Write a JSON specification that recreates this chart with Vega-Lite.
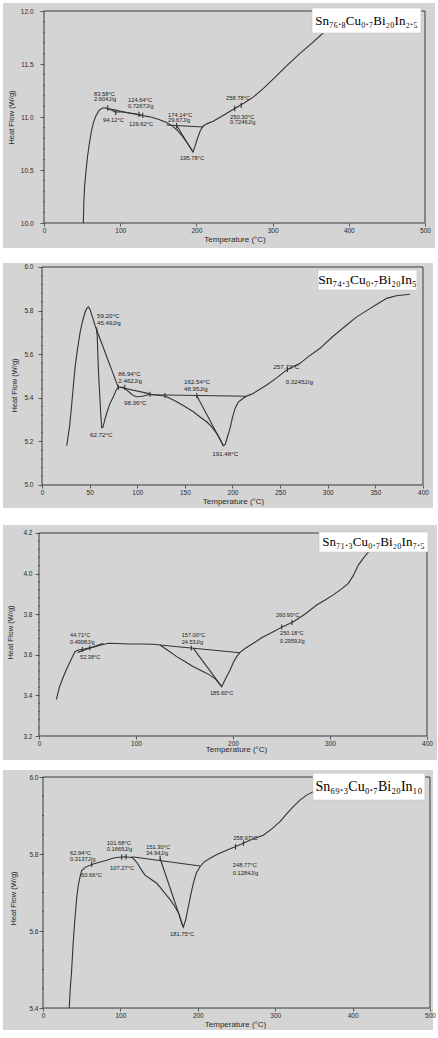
{
  "$schema": "https://vega.github.io/schema/vega-lite/v6.json",
  "background": "white",
  "padding": {"left": 3, "top": 3, "right": 0, "bottom": 0},
  "config": {
    "view": {"fill": "#d4d4d4", "stroke": null},
    "axis": {
      "domain": false, "grid": false, "zindex": 1, "minExtent": 0,
      "labelFont": "Liberation Sans", "titleFont": "Liberation Sans",
      "labelColor": "#2a2a2a", "titleColor": "#2a2a2a", "tickColor": "#3a3a3a",
      "labelFontSize": 6.5, "titleFontSize": 8, "titleFontWeight": "normal",
      "labelFlush": false, "labelOverlap": false, "tickWidth": 0.8, "tickSize": 3
    },
    "tick": {"orient": "horizontal", "size": 2, "thickness": 0.8, "color": "#3a3a3a", "xOffset": -1}
  },
  "datasets": {
    "curves": [
      {"p":1,"s":"c","T":51.6,"HF":10.0},{"p":1,"s":"c","T":52.3,"HF":10.2},{"p":1,"s":"c","T":53.3,"HF":10.35},{"p":1,"s":"c","T":55,"HF":10.48},
      {"p":1,"s":"c","T":57,"HF":10.62},{"p":1,"s":"c","T":59.5,"HF":10.75},{"p":1,"s":"c","T":62,"HF":10.86},{"p":1,"s":"c","T":65,"HF":10.95},
      {"p":1,"s":"c","T":68,"HF":11.01},{"p":1,"s":"c","T":72,"HF":11.06},{"p":1,"s":"c","T":76,"HF":11.083},{"p":1,"s":"c","T":80,"HF":11.087},
      {"p":1,"s":"c","T":85,"HF":11.075},{"p":1,"s":"c","T":90,"HF":11.062},{"p":1,"s":"c","T":94,"HF":11.045},{"p":1,"s":"c","T":98,"HF":11.05},
      {"p":1,"s":"c","T":105,"HF":11.045},{"p":1,"s":"c","T":112,"HF":11.038},{"p":1,"s":"c","T":120,"HF":11.03},{"p":1,"s":"c","T":126,"HF":11.02},
      {"p":1,"s":"c","T":130,"HF":11.012},{"p":1,"s":"c","T":135,"HF":11.006},{"p":1,"s":"c","T":140,"HF":11.0},{"p":1,"s":"c","T":150,"HF":10.978},
      {"p":1,"s":"c","T":160,"HF":10.95},{"p":1,"s":"c","T":168,"HF":10.918},{"p":1,"s":"c","T":175,"HF":10.875},{"p":1,"s":"c","T":182,"HF":10.815},
      {"p":1,"s":"c","T":188,"HF":10.755},{"p":1,"s":"c","T":192,"HF":10.71},{"p":1,"s":"c","T":195.5,"HF":10.67},{"p":1,"s":"c","T":198,"HF":10.72},
      {"p":1,"s":"c","T":201,"HF":10.79},{"p":1,"s":"c","T":205,"HF":10.87},{"p":1,"s":"c","T":209,"HF":10.915},{"p":1,"s":"c","T":215,"HF":10.94},
      {"p":1,"s":"c","T":222,"HF":10.96},{"p":1,"s":"c","T":235,"HF":11.015},{"p":1,"s":"c","T":248,"HF":11.07},{"p":1,"s":"c","T":262,"HF":11.13},
      {"p":1,"s":"c","T":275,"HF":11.19},{"p":1,"s":"c","T":288,"HF":11.27},{"p":1,"s":"c","T":301,"HF":11.36},{"p":1,"s":"c","T":318,"HF":11.48},
      {"p":1,"s":"c","T":336,"HF":11.6},{"p":1,"s":"c","T":352,"HF":11.7},{"p":1,"s":"c","T":366,"HF":11.79},{"p":1,"s":"c","T":380,"HF":11.88},
      {"p":1,"s":"c","T":395,"HF":11.98},
      {"p":1,"s":"b1","T":83.6,"HF":11.08},{"p":1,"s":"b1","T":129.6,"HF":11.012},
      {"p":1,"s":"b2","T":161,"HF":10.925},{"p":1,"s":"b2","T":209,"HF":10.905},
      {"p":1,"s":"b3","T":174.1,"HF":10.92},{"p":1,"s":"b3","T":195.5,"HF":10.67},
      {"p":1,"s":"k1","T":83.6,"HF":11.06},{"p":1,"s":"k1","T":83.6,"HF":11.11},
      {"p":1,"s":"k2","T":94.1,"HF":11.02},{"p":1,"s":"k2","T":94.1,"HF":11.07},
      {"p":1,"s":"k3","T":124.6,"HF":11.0},{"p":1,"s":"k3","T":124.6,"HF":11.05},
      {"p":1,"s":"k4","T":129.6,"HF":10.99},{"p":1,"s":"k4","T":129.6,"HF":11.04},
      {"p":1,"s":"k5","T":174.1,"HF":10.895},{"p":1,"s":"k5","T":174.1,"HF":10.945},
      {"p":1,"s":"k6","T":250.3,"HF":11.055},{"p":1,"s":"k6","T":250.3,"HF":11.105},
      {"p":1,"s":"k7","T":258.8,"HF":11.085},{"p":1,"s":"k7","T":258.8,"HF":11.135},

      {"p":2,"s":"c","T":26,"HF":5.18},{"p":2,"s":"c","T":29,"HF":5.27},{"p":2,"s":"c","T":31,"HF":5.36},{"p":2,"s":"c","T":33,"HF":5.46},
      {"p":2,"s":"c","T":35,"HF":5.55},{"p":2,"s":"c","T":37.5,"HF":5.63},{"p":2,"s":"c","T":40,"HF":5.7},{"p":2,"s":"c","T":42.5,"HF":5.75},
      {"p":2,"s":"c","T":45,"HF":5.79},{"p":2,"s":"c","T":47,"HF":5.81},{"p":2,"s":"c","T":48.6,"HF":5.817},{"p":2,"s":"c","T":50.5,"HF":5.805},
      {"p":2,"s":"c","T":53,"HF":5.77},{"p":2,"s":"c","T":55.5,"HF":5.735},{"p":2,"s":"c","T":57.4,"HF":5.711},{"p":2,"s":"c","T":58,"HF":5.68},
      {"p":2,"s":"c","T":59.1,"HF":5.543},{"p":2,"s":"c","T":60,"HF":5.46},{"p":2,"s":"c","T":60.9,"HF":5.39},{"p":2,"s":"c","T":61.8,"HF":5.32},
      {"p":2,"s":"c","T":62.7,"HF":5.262},{"p":2,"s":"c","T":64,"HF":5.265},{"p":2,"s":"c","T":66,"HF":5.3},{"p":2,"s":"c","T":67.9,"HF":5.329},
      {"p":2,"s":"c","T":71,"HF":5.37},{"p":2,"s":"c","T":74.9,"HF":5.405},{"p":2,"s":"c","T":78,"HF":5.437},{"p":2,"s":"c","T":80.1,"HF":5.448},
      {"p":2,"s":"c","T":85.4,"HF":5.448},{"p":2,"s":"c","T":89,"HF":5.435},{"p":2,"s":"c","T":92.4,"HF":5.423},{"p":2,"s":"c","T":96,"HF":5.41},
      {"p":2,"s":"c","T":99.4,"HF":5.405},{"p":2,"s":"c","T":103,"HF":5.406},{"p":2,"s":"c","T":106.4,"HF":5.408},{"p":2,"s":"c","T":113.4,"HF":5.416},
      {"p":2,"s":"c","T":120,"HF":5.413},{"p":2,"s":"c","T":129.1,"HF":5.408},{"p":2,"s":"c","T":140,"HF":5.385},{"p":2,"s":"c","T":150,"HF":5.36},
      {"p":2,"s":"c","T":158.9,"HF":5.336},{"p":2,"s":"c","T":166,"HF":5.312},{"p":2,"s":"c","T":172.9,"HF":5.29},{"p":2,"s":"c","T":178,"HF":5.268},
      {"p":2,"s":"c","T":183.4,"HF":5.237},{"p":2,"s":"c","T":187,"HF":5.21},{"p":2,"s":"c","T":190.4,"HF":5.18},{"p":2,"s":"c","T":192.2,"HF":5.185},
      {"p":2,"s":"c","T":194,"HF":5.21},{"p":2,"s":"c","T":197.4,"HF":5.26},{"p":2,"s":"c","T":200,"HF":5.31},{"p":2,"s":"c","T":202.6,"HF":5.35},
      {"p":2,"s":"c","T":206,"HF":5.38},{"p":2,"s":"c","T":211.3,"HF":5.398},{"p":2,"s":"c","T":216,"HF":5.41},{"p":2,"s":"c","T":221.8,"HF":5.42},
      {"p":2,"s":"c","T":235.9,"HF":5.459},{"p":2,"s":"c","T":246,"HF":5.49},{"p":2,"s":"c","T":256.9,"HF":5.528},{"p":2,"s":"c","T":270.9,"HF":5.558},
      {"p":2,"s":"c","T":280,"HF":5.59},{"p":2,"s":"c","T":291.9,"HF":5.627},{"p":2,"s":"c","T":305,"HF":5.68},{"p":2,"s":"c","T":319.9,"HF":5.734},
      {"p":2,"s":"c","T":330,"HF":5.77},{"p":2,"s":"c","T":340.9,"HF":5.8},{"p":2,"s":"c","T":352,"HF":5.83},{"p":2,"s":"c","T":361.9,"HF":5.856},
      {"p":2,"s":"c","T":372,"HF":5.868},{"p":2,"s":"c","T":386.3,"HF":5.875},
      {"p":2,"s":"b1","T":57.4,"HF":5.711},{"p":2,"s":"b1","T":80.1,"HF":5.448},
      {"p":2,"s":"b2","T":81.9,"HF":5.448},{"p":2,"s":"b2","T":113.4,"HF":5.418},
      {"p":2,"s":"b3","T":113.4,"HF":5.414},{"p":2,"s":"b3","T":214.9,"HF":5.407},
      {"p":2,"s":"b4","T":162.4,"HF":5.41},{"p":2,"s":"b4","T":190.4,"HF":5.18},
      {"p":2,"s":"k1","T":57.4,"HF":5.699},{"p":2,"s":"k1","T":57.4,"HF":5.723},
      {"p":2,"s":"k2","T":80.1,"HF":5.436},{"p":2,"s":"k2","T":80.1,"HF":5.46},
      {"p":2,"s":"k3","T":86.9,"HF":5.436},{"p":2,"s":"k3","T":86.9,"HF":5.46},
      {"p":2,"s":"k4","T":113.4,"HF":5.404},{"p":2,"s":"k4","T":113.4,"HF":5.428},
      {"p":2,"s":"k5","T":129.1,"HF":5.398},{"p":2,"s":"k5","T":129.1,"HF":5.422},
      {"p":2,"s":"k6","T":162.5,"HF":5.398},{"p":2,"s":"k6","T":162.5,"HF":5.422},
      {"p":2,"s":"k7","T":257.7,"HF":5.518},{"p":2,"s":"k7","T":257.7,"HF":5.542},

      {"p":3,"s":"c","T":18,"HF":3.38},{"p":3,"s":"c","T":21,"HF":3.44},{"p":3,"s":"c","T":25.1,"HF":3.492},{"p":3,"s":"c","T":28.5,"HF":3.53},
      {"p":3,"s":"c","T":32,"HF":3.566},{"p":3,"s":"c","T":35,"HF":3.595},{"p":3,"s":"c","T":37.1,"HF":3.615},{"p":3,"s":"c","T":40.5,"HF":3.624},
      {"p":3,"s":"c","T":45.7,"HF":3.627},{"p":3,"s":"c","T":50,"HF":3.632},{"p":3,"s":"c","T":56,"HF":3.637},{"p":3,"s":"c","T":62,"HF":3.646},
      {"p":3,"s":"c","T":71.4,"HF":3.657},{"p":3,"s":"c","T":80,"HF":3.656},{"p":3,"s":"c","T":93.8,"HF":3.653},{"p":3,"s":"c","T":105,"HF":3.653},
      {"p":3,"s":"c","T":117.8,"HF":3.652},{"p":3,"s":"c","T":124.7,"HF":3.648},{"p":3,"s":"c","T":132,"HF":3.625},{"p":3,"s":"c","T":142,"HF":3.591},
      {"p":3,"s":"c","T":150,"HF":3.568},{"p":3,"s":"c","T":159.1,"HF":3.541},{"p":3,"s":"c","T":168,"HF":3.52},{"p":3,"s":"c","T":176.3,"HF":3.5},
      {"p":3,"s":"c","T":182,"HF":3.48},{"p":3,"s":"c","T":188.4,"HF":3.443},{"p":3,"s":"c","T":192,"HF":3.48},{"p":3,"s":"c","T":197,"HF":3.525},
      {"p":3,"s":"c","T":200.3,"HF":3.562},{"p":3,"s":"c","T":203.8,"HF":3.591},{"p":3,"s":"c","T":207.2,"HF":3.612},{"p":3,"s":"c","T":212,"HF":3.63},
      {"p":3,"s":"c","T":221,"HF":3.657},{"p":3,"s":"c","T":230,"HF":3.685},{"p":3,"s":"c","T":241.5,"HF":3.714},{"p":3,"s":"c","T":252,"HF":3.74},
      {"p":3,"s":"c","T":262.2,"HF":3.763},{"p":3,"s":"c","T":274,"HF":3.8},{"p":3,"s":"c","T":286.3,"HF":3.845},{"p":3,"s":"c","T":295,"HF":3.87},
      {"p":3,"s":"c","T":303.4,"HF":3.895},{"p":3,"s":"c","T":312,"HF":3.925},{"p":3,"s":"c","T":318.9,"HF":3.952},{"p":3,"s":"c","T":324,"HF":3.99},
      {"p":3,"s":"c","T":329.2,"HF":4.042},{"p":3,"s":"c","T":335,"HF":4.08},{"p":3,"s":"c","T":341.2,"HF":4.116},{"p":3,"s":"c","T":348,"HF":4.165},
      {"p":3,"s":"b1","T":39.9,"HF":3.612},{"p":3,"s":"b1","T":66.3,"HF":3.657},
      {"p":3,"s":"b2","T":124.7,"HF":3.648},{"p":3,"s":"b2","T":207.2,"HF":3.61},
      {"p":3,"s":"b3","T":159.1,"HF":3.632},{"p":3,"s":"b3","T":188.4,"HF":3.443},
      {"p":3,"s":"k1","T":44.7,"HF":3.615},{"p":3,"s":"k1","T":44.7,"HF":3.639},
      {"p":3,"s":"k2","T":52.4,"HF":3.622},{"p":3,"s":"k2","T":52.4,"HF":3.646},
      {"p":3,"s":"k3","T":157,"HF":3.621},{"p":3,"s":"k3","T":157,"HF":3.645},
      {"p":3,"s":"k4","T":250.2,"HF":3.725},{"p":3,"s":"k4","T":250.2,"HF":3.749},
      {"p":3,"s":"k5","T":260.9,"HF":3.747},{"p":3,"s":"k5","T":260.9,"HF":3.771},

      {"p":4,"s":"c","T":33.9,"HF":5.4},{"p":4,"s":"c","T":35.2,"HF":5.45},{"p":4,"s":"c","T":36.9,"HF":5.494},{"p":4,"s":"c","T":39,"HF":5.57},
      {"p":4,"s":"c","T":41.3,"HF":5.633},{"p":4,"s":"c","T":43.5,"HF":5.685},{"p":4,"s":"c","T":45.6,"HF":5.719},{"p":4,"s":"c","T":48,"HF":5.742},
      {"p":4,"s":"c","T":50,"HF":5.757},{"p":4,"s":"c","T":55,"HF":5.766},{"p":4,"s":"c","T":65,"HF":5.774},{"p":4,"s":"c","T":75,"HF":5.78},
      {"p":4,"s":"c","T":82.3,"HF":5.784},{"p":4,"s":"c","T":90,"HF":5.789},{"p":4,"s":"c","T":95.2,"HF":5.791},{"p":4,"s":"c","T":105,"HF":5.793},
      {"p":4,"s":"c","T":114.6,"HF":5.791},{"p":4,"s":"c","T":118,"HF":5.786},{"p":4,"s":"c","T":121.9,"HF":5.776},{"p":4,"s":"c","T":126,"HF":5.762},
      {"p":4,"s":"c","T":131.8,"HF":5.745},{"p":4,"s":"c","T":139,"HF":5.735},{"p":4,"s":"c","T":146.9,"HF":5.724},{"p":4,"s":"c","T":152,"HF":5.712},
      {"p":4,"s":"c","T":157.6,"HF":5.698},{"p":4,"s":"c","T":164,"HF":5.682},{"p":4,"s":"c","T":170.5,"HF":5.663},{"p":4,"s":"c","T":175.5,"HF":5.645},
      {"p":4,"s":"c","T":179.2,"HF":5.62},{"p":4,"s":"c","T":181.3,"HF":5.61},{"p":4,"s":"c","T":184.5,"HF":5.63},{"p":4,"s":"c","T":187.8,"HF":5.663},
      {"p":4,"s":"c","T":191,"HF":5.695},{"p":4,"s":"c","T":194.2,"HF":5.724},{"p":4,"s":"c","T":198,"HF":5.75},{"p":4,"s":"c","T":202.8,"HF":5.767},
      {"p":4,"s":"c","T":208,"HF":5.779},{"p":4,"s":"c","T":215.8,"HF":5.789},{"p":4,"s":"c","T":226,"HF":5.8},{"p":4,"s":"c","T":237.3,"HF":5.81},
      {"p":4,"s":"c","T":252,"HF":5.822},{"p":4,"s":"c","T":267.4,"HF":5.836},{"p":4,"s":"c","T":284.6,"HF":5.849},{"p":4,"s":"c","T":296,"HF":5.866},
      {"p":4,"s":"c","T":306.2,"HF":5.884},{"p":4,"s":"c","T":315,"HF":5.905},{"p":4,"s":"c","T":323.4,"HF":5.923},{"p":4,"s":"c","T":332,"HF":5.94},
      {"p":4,"s":"c","T":340.6,"HF":5.953},{"p":4,"s":"c","T":353.5,"HF":5.966},{"p":4,"s":"c","T":365,"HF":5.975},
      {"p":4,"s":"b1","T":114.6,"HF":5.793},{"p":4,"s":"b1","T":203,"HF":5.769},
      {"p":4,"s":"b2","T":151.2,"HF":5.789},{"p":4,"s":"b2","T":181.3,"HF":5.61},
      {"p":4,"s":"k1","T":62.9,"HF":5.766},{"p":4,"s":"k1","T":62.9,"HF":5.78},
      {"p":4,"s":"k2","T":101.7,"HF":5.785},{"p":4,"s":"k2","T":101.7,"HF":5.799},
      {"p":4,"s":"k3","T":107.3,"HF":5.786},{"p":4,"s":"k3","T":107.3,"HF":5.8},
      {"p":4,"s":"k4","T":151.3,"HF":5.782},{"p":4,"s":"k4","T":151.3,"HF":5.796},
      {"p":4,"s":"k5","T":248.8,"HF":5.812},{"p":4,"s":"k5","T":248.8,"HF":5.826},
      {"p":4,"s":"k6","T":259,"HF":5.821},{"p":4,"s":"k6","T":259,"HF":5.835}
    ],
    "minorTicks": [
      {"p":1,"HF":10.1},{"p":1,"HF":10.2},{"p":1,"HF":10.3},{"p":1,"HF":10.4},{"p":1,"HF":10.6},{"p":1,"HF":10.7},{"p":1,"HF":10.8},{"p":1,"HF":10.9},
      {"p":1,"HF":11.1},{"p":1,"HF":11.2},{"p":1,"HF":11.3},{"p":1,"HF":11.4},{"p":1,"HF":11.6},{"p":1,"HF":11.7},{"p":1,"HF":11.8},{"p":1,"HF":11.9},
      {"p":2,"HF":5.04},{"p":2,"HF":5.08},{"p":2,"HF":5.12},{"p":2,"HF":5.16},{"p":2,"HF":5.24},{"p":2,"HF":5.28},{"p":2,"HF":5.32},{"p":2,"HF":5.36},
      {"p":2,"HF":5.44},{"p":2,"HF":5.48},{"p":2,"HF":5.52},{"p":2,"HF":5.56},{"p":2,"HF":5.64},{"p":2,"HF":5.68},{"p":2,"HF":5.72},{"p":2,"HF":5.76},
      {"p":2,"HF":5.84},{"p":2,"HF":5.88},{"p":2,"HF":5.92},{"p":2,"HF":5.96},
      {"p":3,"HF":3.24},{"p":3,"HF":3.28},{"p":3,"HF":3.32},{"p":3,"HF":3.36},{"p":3,"HF":3.44},{"p":3,"HF":3.48},{"p":3,"HF":3.52},{"p":3,"HF":3.56},
      {"p":3,"HF":3.64},{"p":3,"HF":3.68},{"p":3,"HF":3.72},{"p":3,"HF":3.76},{"p":3,"HF":3.84},{"p":3,"HF":3.88},{"p":3,"HF":3.92},{"p":3,"HF":3.96},
      {"p":3,"HF":4.04},{"p":3,"HF":4.08},{"p":3,"HF":4.12},{"p":3,"HF":4.16},
      {"p":4,"HF":5.45},{"p":4,"HF":5.5},{"p":4,"HF":5.55},{"p":4,"HF":5.65},{"p":4,"HF":5.7},{"p":4,"HF":5.75},{"p":4,"HF":5.85},{"p":4,"HF":5.9},{"p":4,"HF":5.95}
    ],
    "notes": [
      {"p":1,"T":65.6,"HF":11.22,"t":"83.58°C"},{"p":1,"T":65.6,"HF":11.17,"t":"2.604J/g"},
      {"p":1,"T":77.4,"HF":10.97,"t":"94.12°C"},
      {"p":1,"T":110.2,"HF":11.16,"t":"124.64°C"},{"p":1,"T":110.2,"HF":11.1,"t":"0.7267J/g"},
      {"p":1,"T":111.5,"HF":10.93,"t":"129.62°C"},
      {"p":1,"T":162.7,"HF":11.02,"t":"174.14°C"},{"p":1,"T":162.7,"HF":10.975,"t":"29.67J/g"},
      {"p":1,"T":178.5,"HF":10.61,"t":"195.78°C"},
      {"p":1,"T":238.8,"HF":11.18,"t":"258.78°C"},
      {"p":1,"T":244,"HF":11.0,"t":"250.30°C"},{"p":1,"T":244,"HF":10.95,"t":"0.7246J/g"},

      {"p":2,"T":57.7,"HF":5.775,"t":"59.20°C"},{"p":2,"T":57.7,"HF":5.744,"t":"45.49J/g"},
      {"p":2,"T":80.1,"HF":5.509,"t":"86.94°C"},{"p":2,"T":80.1,"HF":5.478,"t":"2.462J/g"},
      {"p":2,"T":86.1,"HF":5.378,"t":"98.36°C"},
      {"p":2,"T":50.4,"HF":5.229,"t":"62.72°C"},
      {"p":2,"T":149.1,"HF":5.474,"t":"162.54°C"},{"p":2,"T":149.1,"HF":5.44,"t":"48.95J/g"},
      {"p":2,"T":178.8,"HF":5.141,"t":"191.48°C"},
      {"p":2,"T":242.9,"HF":5.54,"t":"257.73°C"},
      {"p":2,"T":255.8,"HF":5.472,"t":"0.3245J/g"},

      {"p":3,"T":32,"HF":3.698,"t":"44.71°C"},{"p":3,"T":32,"HF":3.662,"t":"0.4908J/g"},
      {"p":3,"T":42.3,"HF":3.591,"t":"52.38°C"},
      {"p":3,"T":147.1,"HF":3.698,"t":"157.00°C"},{"p":3,"T":147.1,"HF":3.662,"t":"24.53J/g"},
      {"p":3,"T":176.3,"HF":3.41,"t":"185.60°C"},
      {"p":3,"T":244.3,"HF":3.796,"t":"260.90°C"},
      {"p":3,"T":248.5,"HF":3.706,"t":"250.18°C"},{"p":3,"T":248.5,"HF":3.669,"t":"0.2959J/g"},

      {"p":4,"T":34.9,"HF":5.803,"t":"62.94°C"},{"p":4,"T":34.9,"HF":5.787,"t":"0.3137J/g"},
      {"p":4,"T":49.1,"HF":5.745,"t":"60.66°C"},
      {"p":4,"T":82.3,"HF":5.828,"t":"101.68°C"},{"p":4,"T":82.3,"HF":5.812,"t":"0.1665J/g"},
      {"p":4,"T":86.6,"HF":5.764,"t":"107.27°C"},
      {"p":4,"T":133.1,"HF":5.819,"t":"151.30°C"},{"p":4,"T":133.1,"HF":5.802,"t":"34.94J/g"},
      {"p":4,"T":164.1,"HF":5.591,"t":"181.75°C"},
      {"p":4,"T":245.9,"HF":5.842,"t":"258.97°C"},
      {"p":4,"T":245.1,"HF":5.771,"t":"248.77°C"},{"p":4,"T":245.1,"HF":5.75,"t":"0.1284J/g"}
    ]
  },
  "spacing": 17,
  "vconcat": [
    {
      "spacing": 15,
      "vconcat": [
        {
          "width": 432, "height": 245,
          "layer": [
            {"data": {"values": [{}]},
             "mark": {"type": "rect", "filled": false, "stroke": "#3a3a3a", "strokeWidth": 1},
             "encoding": {"x": {"datum": 0, "type": "quantitative"}, "x2": {"datum": 500},
                          "y": {"datum": 10, "type": "quantitative"}, "y2": {"datum": 12}}},
            {"data": {"name": "minorTicks"}, "transform": [{"filter": "datum.p == 1"}],
             "mark": "tick",
             "encoding": {"x": {"datum": 0, "type": "quantitative"}, "y": {"field": "HF", "type": "quantitative"}}},
            {"data": {"name": "curves"}, "transform": [{"filter": "datum.p == 1"}],
             "mark": {"type": "line", "strokeWidth": 1.1, "color": "#333333"},
             "encoding": {
               "x": {"field": "T", "type": "quantitative", "scale": {"domain": [-53.81, 513.12], "nice": false, "zero": false},
                     "axis": {"values": [0, 100, 200, 300, 400, 500], "format": "d", "offset": -25, "labelPadding": 1,
                              "title": "Temperature (°C)", "titleX": 231.5, "titleY": 16, "titleBaseline": "middle", "titleAlign": "center"}},
               "y": {"field": "HF", "type": "quantitative", "scale": {"domain": [9.7642, 12.0755], "nice": false, "zero": false},
                     "axis": {"values": [10, 10.5, 11, 11.5, 12], "format": ".1f", "tickSize": 4,
                              "offset": -41, "labelPadding": 7,
                              "title": "Heat Flow (W/g)", "titleX": -33, "titleY": 114, "titleAngle": -90, "titleBaseline": "middle", "titleAlign": "center", "titleFontSize": 7.5}},
               "detail": {"field": "s"}}},
            {"data": {"name": "notes"}, "transform": [{"filter": "datum.p == 1"}],
             "mark": {"type": "text", "align": "left", "baseline": "middle", "font": "Liberation Sans", "fontSize": 5.8, "color": "#222222"},
             "encoding": {"x": {"field": "T", "type": "quantitative"}, "y": {"field": "HF", "type": "quantitative"}, "text": {"field": "t"}}},
            {"data": {"values": [{}]},
             "mark": {"type": "rect", "fill": "white", "stroke": "#c4c4c4", "strokeWidth": 0.6},
             "encoding": {"x": {"datum": 351.7, "type": "quantitative"}, "x2": {"datum": 494.8},
                          "y": {"datum": 11.792, "type": "quantitative"}, "y2": {"datum": 12.028}}},
            {"data": {"values": [{}]},
             "mark": {"type": "text", "font": "Liberation Serif", "fontSize": 13, "color": "black", "align": "center", "baseline": "middle"},
             "encoding": {"x": {"datum": 423.2, "type": "quantitative"}, "y": {"datum": 11.91, "type": "quantitative"},
                          "text": {"value": "Sn₇₆.₈Cu₀.₇Bi₂₀In₂.₅"}}}
          ]
        },
        {
          "width": 430, "height": 245,
          "layer": [
            {"data": {"values": [{}]},
             "mark": {"type": "rect", "filled": false, "stroke": "#3a3a3a", "strokeWidth": 1},
             "encoding": {"x": {"datum": 0, "type": "quantitative"}, "x2": {"datum": 400},
                          "y": {"datum": 5, "type": "quantitative"}, "y2": {"datum": 6}}},
            {"data": {"name": "minorTicks"}, "transform": [{"filter": "datum.p == 2"}],
             "mark": "tick",
             "encoding": {"x": {"datum": 0, "type": "quantitative"}, "y": {"field": "HF", "type": "quantitative"}}},
            {"data": {"name": "curves"}, "transform": [{"filter": "datum.p == 2"}],
             "mark": {"type": "line", "strokeWidth": 1.1, "color": "#333333"},
             "encoding": {
               "x": {"field": "T", "type": "quantitative", "scale": {"domain": [-40.94, 410.5], "nice": false, "zero": false},
                     "axis": {"values": [0, 50, 100, 150, 200, 250, 300, 350, 400], "format": "d", "offset": -23, "labelPadding": 1,
                              "title": "Temperature (°C)", "titleX": 230, "titleY": 16.7, "titleBaseline": "middle", "titleAlign": "center"}},
               "y": {"field": "HF", "type": "quantitative", "scale": {"domain": [4.8945, 6.0183], "nice": false, "zero": false},
                     "axis": {"values": [5, 5.2, 5.4, 5.6, 5.8, 6], "format": ".1f", "tickSize": 4,
                              "offset": -39, "labelPadding": 5,
                              "title": "Heat Flow (W/g)", "titleX": -28, "titleY": 122, "titleAngle": -90, "titleBaseline": "middle", "titleAlign": "center", "titleFontSize": 7.5}},
               "detail": {"field": "s"}}},
            {"data": {"name": "notes"}, "transform": [{"filter": "datum.p == 2"}],
             "mark": {"type": "text", "align": "left", "baseline": "middle", "font": "Liberation Sans", "fontSize": 6.2, "color": "#222222"},
             "encoding": {"x": {"field": "T", "type": "quantitative"}, "y": {"field": "HF", "type": "quantitative"}, "text": {"field": "t"}}},
            {"data": {"values": [{}]},
             "mark": {"type": "rect", "fill": "white", "stroke": "#c4c4c4", "strokeWidth": 0.6},
             "encoding": {"x": {"datum": 289.8, "type": "quantitative"}, "x2": {"datum": 393.7},
                          "y": {"datum": 5.894, "type": "quantitative"}, "y2": {"datum": 5.986}}},
            {"data": {"values": [{}]},
             "mark": {"type": "text", "font": "Liberation Serif", "fontSize": 13.5, "color": "black", "align": "center", "baseline": "middle"},
             "encoding": {"x": {"datum": 341.7, "type": "quantitative"}, "y": {"datum": 5.94, "type": "quantitative"},
                          "text": {"value": "Sn₇₄.₃Cu₀.₇Bi₂₀In₅"}}}
          ]
        }
      ]
    },
    {
      "spacing": 10,
      "vconcat": [
        {
          "width": 434, "height": 235,
          "layer": [
            {"data": {"values": [{}]},
             "mark": {"type": "rect", "filled": false, "stroke": "#3a3a3a", "strokeWidth": 1},
             "encoding": {"x": {"datum": 0, "type": "quantitative"}, "x2": {"datum": 400},
                          "y": {"datum": 3.2, "type": "quantitative"}, "y2": {"datum": 4.2}}},
            {"data": {"name": "minorTicks"}, "transform": [{"filter": "datum.p == 3"}],
             "mark": "tick",
             "encoding": {"x": {"datum": 0, "type": "quantitative"}, "y": {"field": "HF", "type": "quantitative"}}},
            {"data": {"name": "curves"}, "transform": [{"filter": "datum.p == 3"}],
             "mark": {"type": "line", "strokeWidth": 1.1, "color": "#333333"},
             "encoding": {
               "x": {"field": "T", "type": "quantitative", "scale": {"domain": [-37.11, 410.31], "nice": false, "zero": false},
                     "axis": {"values": [0, 100, 200, 300, 400], "format": "d", "offset": -24, "labelPadding": 1,
                              "title": "Temperature (°C)", "titleX": 233, "titleY": 13, "titleBaseline": "middle", "titleAlign": "center"}},
               "y": {"field": "HF", "type": "quantitative", "scale": {"domain": [3.0818, 4.2394], "nice": false, "zero": false},
                     "axis": {"values": [3.2, 3.4, 3.6, 3.8, 4, 4.2], "format": ".1f", "tickSize": 4,
                              "offset": -36, "labelPadding": 3,
                              "title": "Heat Flow (W/g)", "titleX": -29, "titleY": 107, "titleAngle": -90, "titleBaseline": "middle", "titleAlign": "center", "titleFontSize": 7.5}},
               "detail": {"field": "s"}}},
            {"data": {"name": "notes"}, "transform": [{"filter": "datum.p == 3"}],
             "mark": {"type": "text", "align": "left", "baseline": "middle", "font": "Liberation Sans", "fontSize": 5.6, "color": "#222222"},
             "encoding": {"x": {"field": "T", "type": "quantitative"}, "y": {"field": "HF", "type": "quantitative"}, "text": {"field": "t"}}},
            {"data": {"values": [{}]},
             "mark": {"type": "rect", "fill": "white", "stroke": "#c4c4c4", "strokeWidth": 0.6},
             "encoding": {"x": {"datum": 288.7, "type": "quantitative"}, "x2": {"datum": 401},
                          "y": {"datum": 4.106, "type": "quantitative"}, "y2": {"datum": 4.205}}},
            {"data": {"values": [{}]},
             "mark": {"type": "text", "font": "Liberation Serif", "fontSize": 13, "color": "black", "align": "center", "baseline": "middle"},
             "encoding": {"x": {"datum": 344.8, "type": "quantitative"}, "y": {"datum": 4.155, "type": "quantitative"},
                          "text": {"value": "Sn₇₁.₃Cu₀.₇Bi₂₀In₇.₅"}}}
          ]
        },
        {
          "width": 430, "height": 260,
          "layer": [
            {"data": {"values": [{}]},
             "mark": {"type": "rect", "filled": false, "stroke": "#3a3a3a", "strokeWidth": 1},
             "encoding": {"x": {"datum": 0, "type": "quantitative"}, "x2": {"datum": 500},
                          "y": {"datum": 5.4, "type": "quantitative"}, "y2": {"datum": 6}}},
            {"data": {"name": "minorTicks"}, "transform": [{"filter": "datum.p == 4"}],
             "mark": "tick",
             "encoding": {"x": {"datum": 0, "type": "quantitative"}, "y": {"field": "HF", "type": "quantitative"}}},
            {"data": {"name": "curves"}, "transform": [{"filter": "datum.p == 4"}],
             "mark": {"type": "line", "strokeWidth": 1.1, "color": "#333333"},
             "encoding": {
               "x": {"field": "T", "type": "quantitative", "scale": {"domain": [-51.68, 503.88], "nice": false, "zero": false},
                     "axis": {"values": [0, 100, 200, 300, 400, 500], "format": "d", "offset": -22, "labelPadding": 1,
                              "title": "Temperature (°C)", "titleX": 232, "titleY": 16, "titleBaseline": "middle", "titleAlign": "center"}},
               "y": {"field": "HF", "type": "quantitative", "scale": {"domain": [5.3429, 6.0182], "nice": false, "zero": false},
                     "axis": {"values": [5.4, 5.6, 5.8, 6], "format": ".1f", "tickSize": 4,
                              "offset": -40, "labelPadding": 1,
                              "title": "Heat Flow (W/g)", "titleX": -30, "titleY": 128, "titleAngle": -90, "titleBaseline": "middle", "titleAlign": "center", "titleFontSize": 7.5}},
               "detail": {"field": "s"}}},
            {"data": {"name": "notes"}, "transform": [{"filter": "datum.p == 4"}],
             "mark": {"type": "text", "align": "left", "baseline": "middle", "font": "Liberation Sans", "fontSize": 5.8, "color": "#222222"},
             "encoding": {"x": {"field": "T", "type": "quantitative"}, "y": {"field": "HF", "type": "quantitative"}, "text": {"field": "t"}}},
            {"data": {"values": [{}]},
             "mark": {"type": "rect", "fill": "white", "stroke": "#c4c4c4", "strokeWidth": 0.6},
             "encoding": {"x": {"datum": 348.8, "type": "quantitative"}, "x2": {"datum": 493.5},
                          "y": {"datum": 5.94, "type": "quantitative"}, "y2": {"datum": 6.01}}},
            {"data": {"values": [{}]},
             "mark": {"type": "text", "font": "Liberation Serif", "fontSize": 14, "color": "black", "align": "center", "baseline": "middle"},
             "encoding": {"x": {"datum": 421, "type": "quantitative"}, "y": {"datum": 5.975, "type": "quantitative"},
                          "text": {"value": "Sn₆₉.₃Cu₀.₇Bi₂₀In₁₀"}}}
          ]
        }
      ]
    }
  ]
}
